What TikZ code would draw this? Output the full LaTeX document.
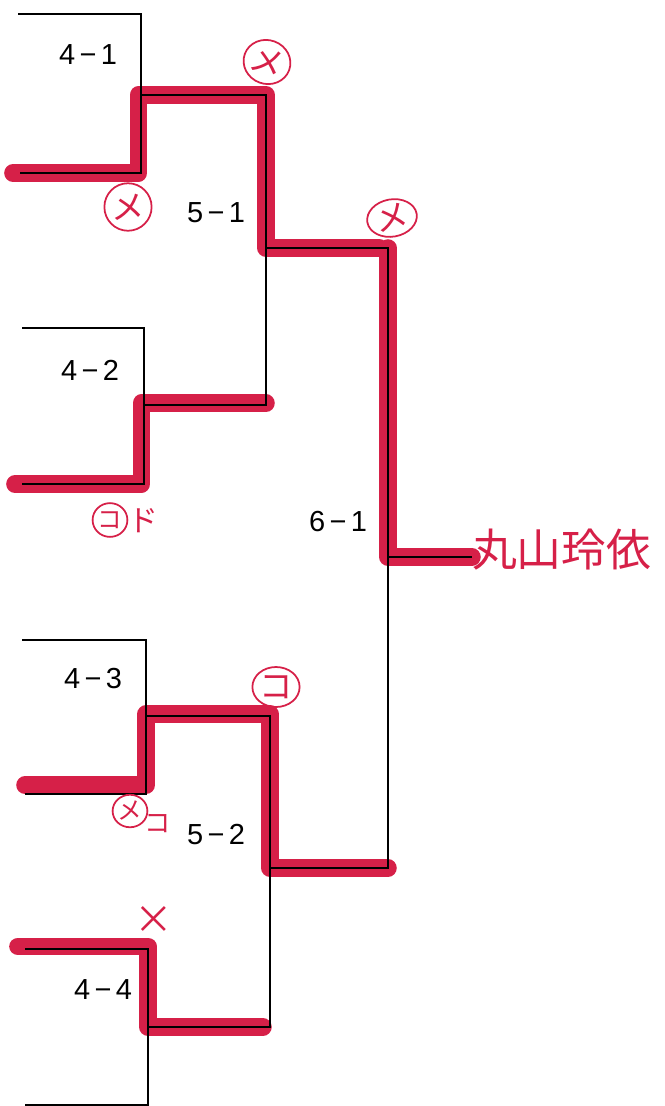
\documentclass[tikz,border=0pt]{standalone}
\usepackage{fontspec}
\newfontfamily\lblfont{Liberation Sans}
\newfontfamily\jpfont{Noto Sans CJK JP}
\usetikzlibrary{shapes.geometric}
\definecolor{pen}{RGB}{214,32,72}

\begin{document}
\begin{tikzpicture}[x=0.04cm,y=-0.04cm,
  waku/.style={line width=1.3pt},
  marker/.style={pen,line width=20pt,line cap=round,line join=round},
  rouban/.style={font=\lblfont\fontsize{33}{33}\selectfont},
  kaki/.style={pen,font=\jpfont\fontsize{38}{38}\selectfont,inner sep=0pt},
  maru/.style={kaki,draw,ellipse,line width=2pt}]
\useasboundingbox (0,0) rectangle (665,1106);
% 4回戦の枠
\coordinate (p1) at (18,14);  \coordinate (p1r) at (141,14);
\coordinate (q1) at (20,173); \coordinate (q1r) at (141,173);
\coordinate (p2) at (22,328); \coordinate (p2r) at (144,328);
\coordinate (q2) at (22,484); \coordinate (q2r) at (144,484);
\coordinate (p3) at (22,640); \coordinate (p3r) at (146,640);
\coordinate (q3) at (25,794); \coordinate (q3r) at (146,794);
\coordinate (p4) at (25,949); \coordinate (p4r) at (148,949);
\coordinate (q4) at (25,1105);\coordinate (q4r) at (148,1105);
% 5回戦・6回戦
\coordinate (m1a) at (141,95);  \coordinate (m1ar) at (266,95);
\coordinate (m1b) at (144,405); \coordinate (m1br) at (266,405);
\coordinate (m2a) at (146,716); \coordinate (m2ar) at (270,716);
\coordinate (m2b) at (148,1027);\coordinate (m2br) at (270,1027);
\coordinate (f1a) at (266,248); \coordinate (f1ar) at (388,248);
\coordinate (f1b) at (270,868); \coordinate (f1br) at (388,868);
\coordinate (win) at (388,557);
\coordinate (nm) at (472,557);
\node[kaki,font=\jpfont\fontsize{51}{51}\selectfont,anchor=west] (name) at (472,550) {丸山玲依};
% 赤ペン
\draw[marker] ([xshift=-8pt]q1) -- ([xshift=-3pt]q1r) -- ([xshift=-3pt]m1a) -- (m1ar) -- (f1a) -- ([xshift=-10pt]f1ar);
\draw[marker] (f1ar) -- (win) -- (nm);
\draw[marker] ([xshift=-8pt]q2) -- ([xshift=-3pt]q2r) -- ([shift={(-3pt,2pt)}]m1b) -- ([yshift=2pt]m1br);
\draw[marker] ([yshift=10pt]q3) -- ([yshift=10pt]q3r) -- ([yshift=2pt]m2a) -- ([yshift=2pt]m2ar) -- (f1b) -- (f1br);
\draw[marker] ([shift={(-8pt,3pt)}]p4) -- ([yshift=3pt]p4r) -- (m2b) -- ([xshift=-8pt]m2br);
% 罫線
\draw[waku] (p1) -- (p1r) -- (q1r) -- (q1);
\draw[waku] (p2) -- (p2r) -- (q2r) -- (q2);
\draw[waku] (p3) -- (p3r) -- (q3r) -- (q3);
\draw[waku] (p4) -- (p4r) -- (q4r) -- (q4);
\draw[waku] (m1a) -- (m1ar) -- (m1br) -- (m1b);
\draw[waku] (m2a) -- (m2ar) -- (m2br) -- (m2b);
\draw[waku] (f1a) -- (f1ar) -- (f1br) -- (f1b);
\draw[waku] (win) -- (nm);
% 試合番号
\node[rouban] (l41) at (88,55) {4\hspace{5pt}−\hspace{5pt}1};
\node[rouban] (l42) at (90,370) {4\hspace{5pt}−\hspace{5pt}2};
\node[rouban] (l43) at (93,679) {4\hspace{5pt}−\hspace{5pt}3};
\node[rouban] (l44) at (103,990) {4\hspace{5pt}−\hspace{5pt}4};
\node[rouban] (l51) at (216,213) {5\hspace{5pt}−\hspace{5pt}1};
\node[rouban] (l52) at (216,835) {5\hspace{5pt}−\hspace{5pt}2};
\node[rouban] (l61) at (338,522) {6\hspace{5pt}−\hspace{5pt}1};
% 書き込み
\node[maru,minimum width=1.6cm,minimum height=1.75cm,rotate=-20] (k1) at (267,62) {メ};
\node[maru,minimum width=1.55cm,minimum height=1.9cm] (k2) at (128,207) {メ};
\node[maru,minimum width=2.0cm,minimum height=1.3cm,rotate=10] (k3) at (392,218) {メ};
\node[maru,minimum width=1.0cm,minimum height=1.35cm,font=\jpfont\fontsize{28}{28}\selectfont] (k4) at (110,520) {コ};
\node[kaki,font=\jpfont\fontsize{34}{34}\selectfont] (k4b) at (143,521) {ド};
\node[maru,minimum width=1.0cm,minimum height=1.3cm,font=\jpfont\fontsize{28}{28}\selectfont] (k5) at (130,811) {メ};
\node[kaki,font=\jpfont\fontsize{30}{30}\selectfont] (k5b) at (158,824) {コ};
\node[maru,minimum width=1.8cm,minimum height=1.6cm] (k6) at (276,687) {コ};
\node[kaki,font=\jpfont\fontsize{44}{44}\selectfont] (k7) at (154,920) {×};
\end{tikzpicture}
\end{document}
